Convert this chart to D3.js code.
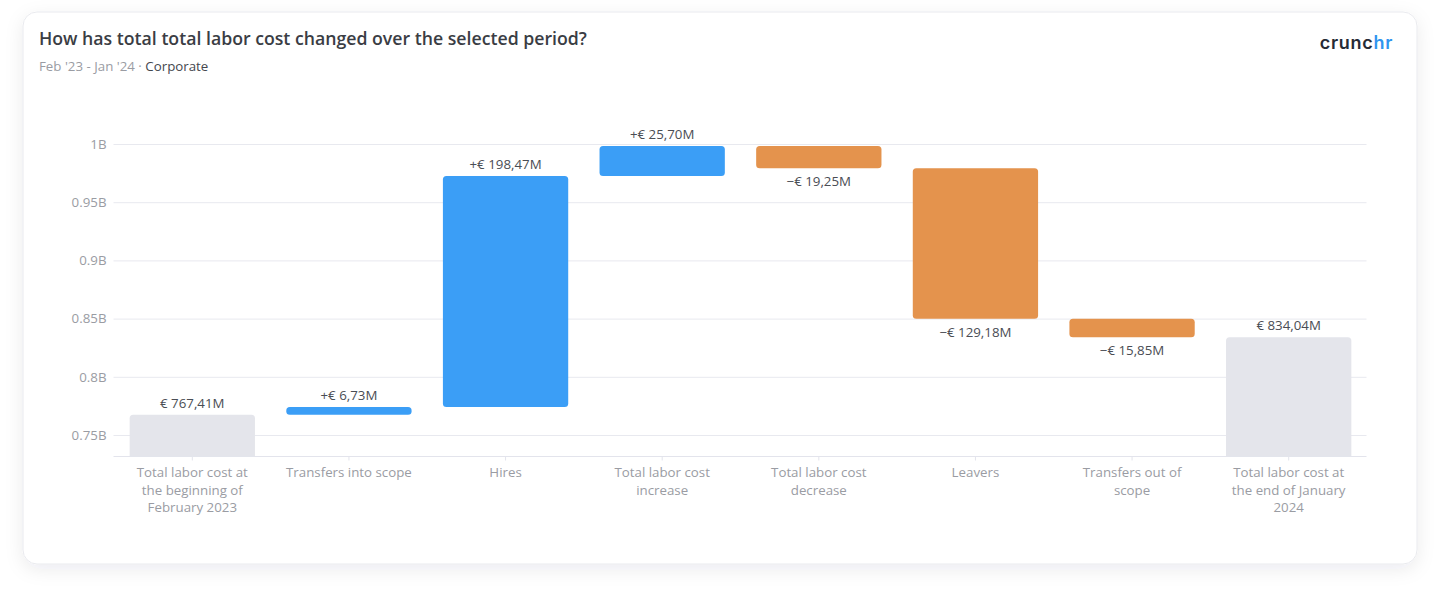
<!DOCTYPE html>
<html><head><meta charset="utf-8">
<script src="https://cdnjs.cloudflare.com/ajax/libs/d3/7.8.5/d3.min.js"></script>
<style>
html,body{margin:0;padding:0;background:#fff;width:1440px;height:598px;overflow:hidden}
svg{display:block;font-family:"Open Sans",sans-serif}
</style></head><body>
<svg id="c" width="1440" height="598"></svg>
<script>
const categories = [
  ["Total labor cost at","the beginning of","February 2023"],
  ["Transfers into scope"],
  ["Hires"],
  ["Total labor cost","increase"],
  ["Total labor cost","decrease"],
  ["Leavers"],
  ["Transfers out of","scope"],
  ["Total labor cost at","the end of January","2024"]
];
const kinds = ["total","up","up","up","down","down","down","total"];
const values = [767.41, 6.73, 198.47, 25.70, 19.25, 129.18, 15.85, 834.04];
const valueLabels = ["€ 767,41M","+€ 6,73M","+€ 198,47M","+€ 25,70M","−€ 19,25M","−€ 129,18M","−€ 15,85M","€ 834,04M"];
const yTicks = [750, 800, 850, 900, 950, 1000];
const yTickLabels = ["0.75B","0.8B","0.85B","0.9B","0.95B","1B"];
const colors = {total:"#e4e5eb", up:"#3b9ef6", down:"#e4934d"};

const svg = d3.select("#c");
const defs = svg.append("defs");
const f = defs.append("filter").attr("id","sh").attr("x","-5%").attr("y","-10%").attr("width","110%").attr("height","120%");
f.append("feDropShadow").attr("dx",0).attr("dy",5).attr("stdDeviation",9).attr("flood-color","#20283c").attr("flood-opacity",0.08);

svg.append("rect").attr("x",23).attr("y",12).attr("width",1394).attr("height",552).attr("rx",14)
  .attr("fill","#fff").attr("stroke","#e9eaee").attr("stroke-width",1).attr("filter","url(#sh)");

svg.append("text").attr("x",39).attr("y",45).attr("font-size",17.7).attr("font-weight",600).attr("fill","#3a3d44")
  .text("How has total total labor cost changed over the selected period?");
const sub = svg.append("text").attr("x",39).attr("y",70.5).attr("font-size",13.3);
sub.append("tspan").attr("fill","#9a9ca3").text("Feb '23 - Jan '24 · ");
sub.append("tspan").attr("fill","#44474e").text("Corporate");

const logo = svg.append("text").attr("x",1393).attr("y",49).attr("text-anchor","end")
  .attr("font-family","Inter, sans-serif").attr("font-size",18).attr("font-weight",600).attr("letter-spacing",0.7);
logo.append("tspan").attr("fill","#262b36").text("crunc");
logo.append("tspan").attr("fill","#2f95ef").text("hr");

const x = d3.scaleBand().domain(d3.range(categories.length)).range([114,1367]).paddingInner(0.2).paddingOuter(0.1);
const y = d3.scaleLinear().domain([750,1000]).range([435,144]);
const baseY = 456.5;

const yAxis = svg.append("g").attr("transform","translate(113.5,0)")
  .call(d3.axisLeft(y).tickValues(yTicks).tickFormat((d,i)=>yTickLabels[i]).tickSize(0).tickPadding(7));
yAxis.select(".domain").remove();
yAxis.selectAll("text").attr("font-size",13.3).attr("fill","#9a9ca3").attr("font-family","'Open Sans',sans-serif");
yAxis.selectAll("line").attr("x2",1253).attr("stroke","#e8e9ef").attr("stroke-width",1);

// running total for waterfall placement
let run = 0;
const bars = values.map((v,i)=>{
  const k = kinds[i];
  let lo, hi;
  if (k==="total"){ lo = null; hi = v; run = v; }
  else if (k==="up"){ lo = run; hi = run+v; run = hi; }
  else { hi = run; lo = run-v; run = lo; }
  return {i,k,lo,hi,label:valueLabels[i]};
});

svg.append("line").attr("x1",113.5).attr("x2",1366.5).attr("y1",baseY).attr("y2",baseY).attr("stroke","#e3e4ec");
svg.selectAll(".xt").data(d3.range(categories.length)).join("line").attr("class","xt")
  .attr("x1",d=>x(d)+x.bandwidth()/2).attr("x2",d=>x(d)+x.bandwidth()/2)
  .attr("y1",baseY).attr("y2",baseY+4).attr("stroke","#e3e4ec");

const barPath = (d)=>{
  const X = x(d.i), W = x.bandwidth();
  const top = y(d.hi), bot = d.lo===null ? baseY : y(d.lo);
  const r = Math.min(3.5, (bot-top)/2);
  const rb = d.lo===null ? 0 : r;
  return `M${X},${top+r}Q${X},${top} ${X+r},${top}H${X+W-r}Q${X+W},${top} ${X+W},${top+r}V${bot-rb}Q${X+W},${bot} ${X+W-rb},${bot}H${X+rb}Q${X},${bot} ${X},${bot-rb}Z`;
};
svg.selectAll(".bar").data(bars).join("path").attr("class","bar").attr("d",barPath).attr("fill",d=>colors[d.k]);

svg.selectAll(".vl").data(bars).join("text").attr("class","vl")
  .attr("x",d=>x(d.i)+x.bandwidth()/2)
  .attr("y",d=>d.k==="down" ? y(d.lo)+18 : y(d.hi)-7)
  .attr("text-anchor","middle").attr("font-size",13.3).attr("fill","#4a4d54").text(d=>d.label);

const xl = svg.selectAll(".xl").data(categories).join("text").attr("class","xl")
  .attr("text-anchor","middle").attr("font-size",13.3).attr("fill","#9a9ca3");
xl.each(function(lines,i){
  d3.select(this).selectAll("tspan").data(lines).join("tspan")
    .attr("x",x(i)+x.bandwidth()/2).attr("y",(d,j)=>477+j*17.5).text(d=>d);
});
</script>
</body></html>
